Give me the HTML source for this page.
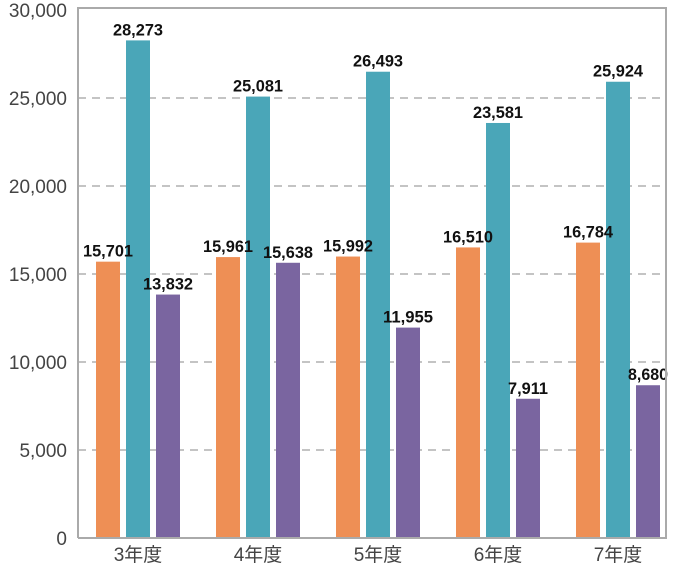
<!DOCTYPE html>
<html><head><meta charset="utf-8"><style>
body{margin:0;background:#fff;}
svg text{font-family:"Liberation Sans","Noto Sans CJK JP",sans-serif;}
.val{font-family:"Liberation Sans Narrow","Liberation Sans",sans-serif;font-weight:bold;font-size:17px;fill:#111;}
.tick{font-size:19px;fill:#444;}
</style></head><body>
<svg width="690" height="568">
<g id="grid"></g>
<g id="bars"></g>
<g id="labels"></g>
<g id="axes"></g>
</svg>
<script>
const categories=["3年度","4年度","5年度","6年度","7年度"];
const seriesA=[15701,15961,15992,16510,16784];
const seriesB=[28273,25081,26493,23581,25924];
const seriesC=[13832,15638,11955,7911,8680];
const yTicks=[0,5000,10000,15000,20000,25000,30000];
const colors=["#ee8f55","#4aa6b8","#7a65a0"];
const L=78,R=666,T=10,B=538,maxV=30000;
const ns="http://www.w3.org/2000/svg";
function y(v){return B-(v/maxV)*(B-T);}
function xc(i){return 138+i*120;}
function mk(tag,attrs,parent,txt){const e=document.createElementNS(ns,tag);for(const k in attrs)e.setAttribute(k,attrs[k]);if(txt!==undefined)e.textContent=txt;document.getElementById(parent).appendChild(e);return e;}
yTicks.forEach(t=>{
 if(t>0&&t<maxV){const g=mk("line",{x1:L,x2:R,y1:y(t),y2:y(t),stroke:"#888","stroke-dasharray":"8,6","stroke-width":1},"grid");
 }
 const tx=mk("text",{x:67,y:y(t)+7,"text-anchor":"end",class:"tick"},"axes",t.toLocaleString("en-US"));
 
});
const series=[seriesA,seriesB,seriesC];
categories.forEach((c,i)=>{
 series.forEach((s,j)=>{
  const x=xc(i)+(j-1)*30-12;
  const r=mk("rect",{x:x,y:y(s[i]),width:24,height:B-y(s[i]),fill:colors[j]},"bars");
  
  const t=mk("text",{x:x+12,y:y(s[i])-5,"text-anchor":"middle",class:"val",textLength:"50",lengthAdjust:"spacingAndGlyphs"},"labels",s[i].toLocaleString("en-US"));
  if(s[i]<10000)t.setAttribute('textLength','40');
  
 });
 const ct=mk("text",{x:xc(i),y:561,"text-anchor":"middle",class:"tick","font-size":"17"},"axes",c);
 
});
const f=mk("path",{d:`M${L},${B}V${T-2}H${R}V${B}H${L}`,fill:"none",stroke:"#aaa","stroke-width":2},"axes");

</script>
</body></html>
